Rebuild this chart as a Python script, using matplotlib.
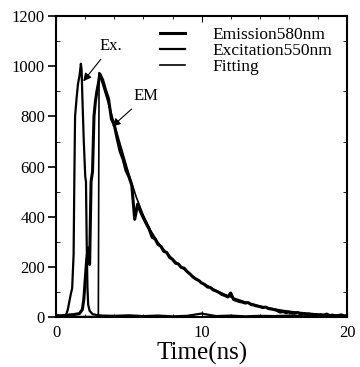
import numpy as np
import matplotlib
matplotlib.use("Agg")
import matplotlib.pyplot as plt
from matplotlib.ticker import MultipleLocator

plt.rcParams['font.family'] = ['Liberation Serif', 'DejaVu Serif']

# excitation 550 nm
exc_time = [0, 0.3, 0.6, 0.7, 0.8, 0.9, 1.0, 1.1, 1.2, 1.25,
            1.3, 1.4, 1.5, 1.6, 1.7, 1.75, 1.8, 1.9, 2.0, 2.05,
            2.1, 2.15, 2.2, 2.3, 2.5, 2.8, 3.2, 4, 5, 6,
            7, 8, 9, 10, 11, 12, 13, 14, 15, 16,
            17, 18, 19, 20]
exc_counts = [4, 6, 8, 12, 30, 60, 90, 115, 250, 550,
              800, 870, 930, 960, 1010, 985, 880, 700, 560, 540,
              300, 120, 50, 25, 12, 8, 6, 5, 7, 4,
              6, 3, 5, 14, 4, 6, 3, 5, 4, 6,
              3, 5, 4, 5]

# emission 580 nm: rising part, then decay sampled every 0.2 ns
em_rise_time = [0, 0.4, 0.8, 1.2, 1.6, 1.8, 1.9, 2.0, 2.1, 2.2,
                2.3, 2.4, 2.5, 2.6, 2.7, 2.8, 2.9, 3.0]
em_rise_counts = [6, 4, 8, 10, 14, 30, 70, 150, 230, 275,
                  210, 540, 580, 800, 860, 900, 930, 970]
em_decay_counts = [945, 905, 870, 790, 765, 710, 660, 630, 585, 560,
                   525, 390, 450, 420, 395, 372, 350, 318, 312, 290,
                   282, 262, 258, 238, 230, 215, 212, 198, 195, 182,
                   172, 160, 152, 146, 136, 130, 120, 118, 108, 104,
                   98, 90, 86, 80, 96, 70, 66, 62, 60, 56,
                   58, 50, 48, 44, 42, 38, 40, 34, 32, 30,
                   26, 20, 22, 18, 20, 16, 15, 18, 12, 14,
                   10, 12, 8, 10, 7, 9, 6, 12, 5, 8,
                   4, 6, 9, 4, 5]
em_decay_time = list(np.round(np.arange(3.2, 20.01, 0.2), 1))

# fitted decay
fit_time = [0, 2.9, 2.95, 3.5, 4.0, 4.5, 5, 5.5, 6, 6.5,
            7, 7.5, 8, 8.5, 9, 9.5, 10, 11, 12, 13,
            14, 15, 16, 17, 18, 19, 20]
fit_counts = [2, 2, 975, 870, 770, 670, 570, 480, 405, 345,
              298, 262, 232, 205, 180, 158, 138, 106, 80, 60,
              44, 32, 23, 17, 12, 9, 6]


def plot_decay():
    fig = plt.figure(figsize=(3.6, 3.67), dpi=100)
    ax = fig.add_axes([0.156, 0.136, 0.808, 0.82])

    em_time = em_rise_time + em_decay_time
    em_counts = em_rise_counts + em_decay_counts
    ax.plot(em_time, em_counts, color="black", lw=2.2, label="Emission580nm")
    ax.plot(exc_time, exc_counts, color="black", lw=1.6, label="Excitation550nm")
    ax.plot(fit_time, fit_counts, color="black", lw=1.2, label="Fitting")

    ax.set_xlim(0, 20)
    ax.set_ylim(0, 1200)
    ax.set_xticks([0, 10, 20])
    ax.set_yticks(range(0, 1201, 200))
    ax.xaxis.set_minor_locator(MultipleLocator(2))
    ax.yaxis.set_minor_locator(MultipleLocator(100))
    ax.tick_params(axis="y", which="major", direction="out", length=6, width=1.2,
                   labelsize=12, pad=2)
    ax.tick_params(axis="y", which="minor", direction="in", length=3, right=True)
    ax.tick_params(axis="x", which="major", direction="in", length=4,
                   labelsize=12, pad=6, top=True)
    ax.tick_params(axis="x", which="minor", direction="in", length=2, top=True)
    for s in ax.spines.values():
        s.set_linewidth(1.5)

    ax.set_xlabel("Time(ns)", fontsize=18, labelpad=0)

    ax.annotate("Ex.", xy=(1.86, 940), xytext=(3.0, 1080), fontsize=12,
                va="center", ha="left",
                arrowprops=dict(arrowstyle="-|>", color="black", lw=0.8,
                                shrinkA=2, shrinkB=0, mutation_scale=12))
    ax.annotate("EM", xy=(3.85, 760), xytext=(5.3, 880), fontsize=12,
                va="center", ha="left",
                arrowprops=dict(arrowstyle="-|>", color="black", lw=0.8,
                                shrinkA=2, shrinkB=0, mutation_scale=12))

    ax.legend(loc="upper right", frameon=False, fontsize=12.5, handlelength=1.4,
              handletextpad=1.6, labelspacing=0.0, borderaxespad=0.2,
              bbox_to_anchor=(0.985, 1.0))

    fig.savefig("out.png", dpi=100)


def main():
    plot_decay()


main()
